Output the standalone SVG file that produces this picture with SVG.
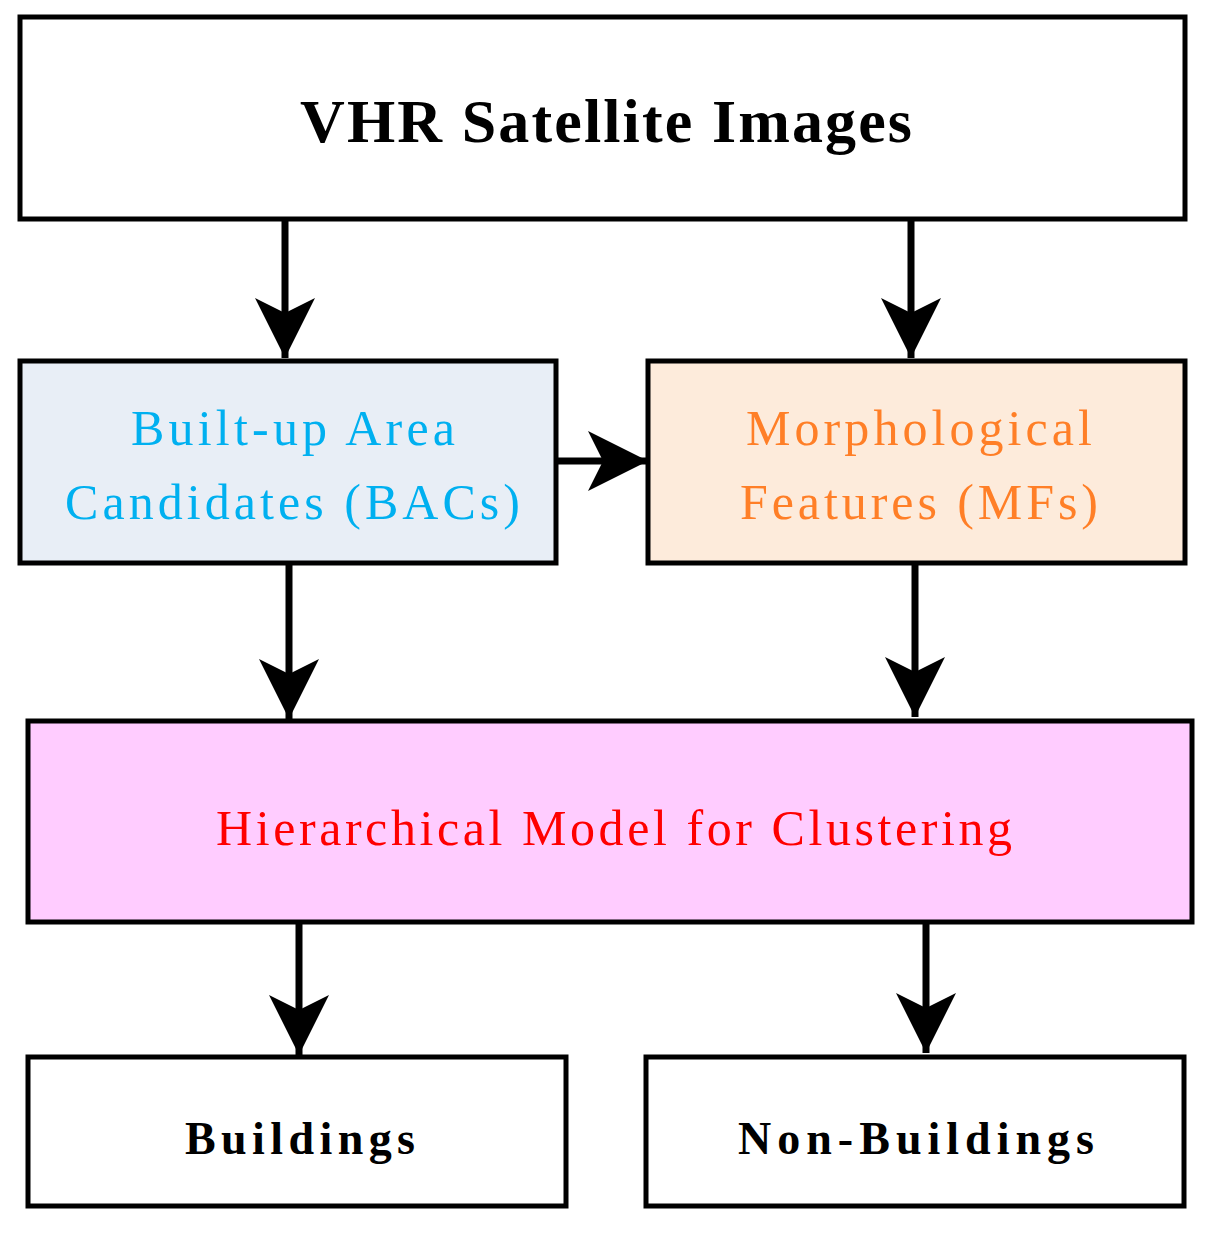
<svg xmlns="http://www.w3.org/2000/svg" width="1215" height="1233" viewBox="0 0 1215 1233">
<defs>
<style>
rect{stroke:#000;stroke-width:5}
text{font-family:"Liberation Serif",serif}
.b{font-weight:bold}
.c line{stroke:#000;stroke-width:7}
</style>
<marker id="h" viewBox="0 0 60 60" refX="60" refY="30" markerWidth="60" markerHeight="60" markerUnits="userSpaceOnUse" orient="auto">
<path d="M0,0 L60,30 L0,60 L15,30 Z" fill="#000"/>
</marker>
</defs>
<g id="top"><rect x="20" y="17" width="1165" height="202" fill="#fff"/><text x="300" y="142" class="b" font-size="62" textLength="612" lengthAdjust="spacing">VHR Satellite Images</text></g>
<g id="bac"><rect x="20" y="361" width="536" height="202" fill="#E8EEF6"/><text x="131" y="445" font-size="50" fill="#00B0F0" textLength="324" lengthAdjust="spacing">Built-up Area</text><text x="65" y="519" font-size="50" fill="#00B0F0" textLength="455" lengthAdjust="spacing">Candidates (BACs)</text></g>
<g id="mf"><rect x="648" y="361" width="537" height="202" fill="#FDEBDB"/><text x="746" y="445" font-size="50" fill="#FF7F27" textLength="346" lengthAdjust="spacing">Morphological</text><text x="740" y="519" font-size="50" fill="#FF7F27" textLength="358" lengthAdjust="spacing">Features (MFs)</text></g>
<g id="hier"><rect x="28" y="721" width="1164" height="201" fill="#FFCCFF"/><text x="216" y="845" font-size="50" fill="#FF0000" textLength="796" lengthAdjust="spacing">Hierarchical Model for Clustering</text></g>
<g id="bld"><rect x="28" y="1057" width="538" height="149" fill="#fff"/><text x="185" y="1154" class="b" font-size="46" textLength="230" lengthAdjust="spacing">Buildings</text></g>
<g id="nbld"><rect x="646" y="1057" width="538" height="149" fill="#fff"/><text x="738" y="1154" class="b" font-size="46" textLength="356" lengthAdjust="spacing">Non-Buildings</text></g>
<g class="c">
<line x1="285" y1="219" x2="285" y2="358" marker-end="url(#h)"/>
<line x1="911" y1="219" x2="911" y2="358" marker-end="url(#h)"/>
<line x1="556" y1="461" x2="648" y2="461" marker-end="url(#h)"/>
<line x1="289" y1="563" x2="289" y2="719" marker-end="url(#h)"/>
<line x1="915" y1="563" x2="915" y2="717" marker-end="url(#h)"/>
<line x1="299" y1="922" x2="299" y2="1055" marker-end="url(#h)"/>
<line x1="926" y1="922" x2="926" y2="1053" marker-end="url(#h)"/>
</g>
</svg>
